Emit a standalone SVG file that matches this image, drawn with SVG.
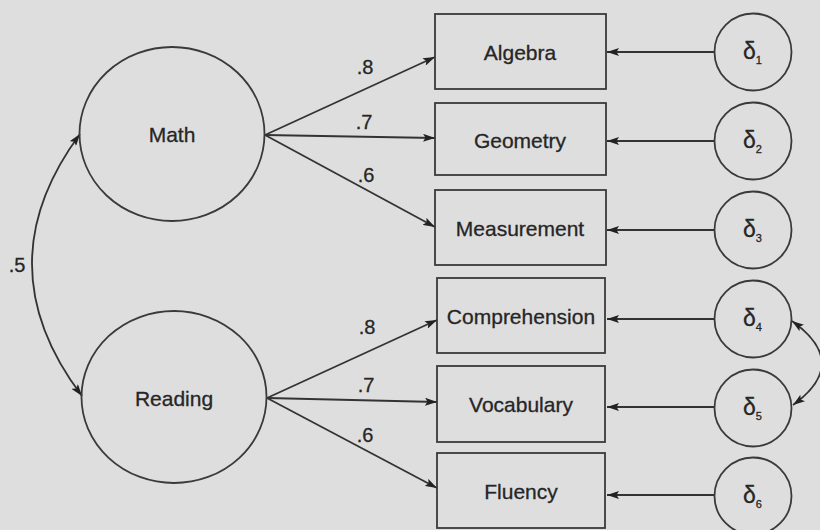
<svg xmlns="http://www.w3.org/2000/svg" width="820" height="530" viewBox="0 0 820 530">
<style>
.shape{fill:none;stroke:#3a3a3a;stroke-width:1.8}
.box{fill:none;stroke:#3a3a3a;stroke-width:1.8}
.lbl{font-family:"Liberation Sans",Arial,sans-serif;font-size:21px;fill:#262626;stroke:#262626;stroke-width:0.3;text-anchor:middle;dominant-baseline:central}
.num{font-family:"Liberation Sans",Arial,sans-serif;font-size:20px;fill:#262626;stroke:#262626;stroke-width:0.3;text-anchor:middle;dominant-baseline:central}
.del{font-family:"Liberation Sans",Arial,sans-serif;font-size:23px;fill:#262626;stroke:#262626;stroke-width:0.3}
.sub{font-size:11px}
.edge{fill:none;stroke:#333;stroke-width:1.8}
.arr{marker-end:url(#ah)}
.dbl{marker-start:url(#ah);marker-end:url(#ah)}
</style>
<defs>
<marker id="ah" viewBox="0 0 12 8" refX="12" refY="4" markerWidth="12" markerHeight="8" markerUnits="userSpaceOnUse" orient="auto-start-reverse">
<path d="M0,0 L12,4 L0,8 L2.5,4 z" fill="#222"/>
</marker>
</defs>
<rect x="0" y="0" width="820" height="530" fill="#dedede"/>

<g id="connectors">
<path class="edge arr" d="M265,135 L435,57"/>
<path class="edge arr" d="M265,135 L435,138"/>
<path class="edge arr" d="M265,135 L435,227"/>
<path class="edge arr" d="M267,398 L437,320"/>
<path class="edge arr" d="M267,398 L437,402"/>
<path class="edge arr" d="M267,398 L437,488"/>
<path class="edge arr" d="M714,52 L607,52"/>
<path class="edge arr" d="M714,141 L607,141"/>
<path class="edge arr" d="M714,230 L607,230"/>
<path class="edge arr" d="M714,319 L607,319"/>
<path class="edge arr" d="M714,407 L607,407"/>
<path class="edge arr" d="M714,495 L607,495"/>
<path class="edge dbl" d="M80,134 Q-17,265 82,396"/>
<path class="edge dbl" d="M792,321 Q851,363 793,405"/>
<text class="num" x="365" y="67">.8</text>
<text class="num" x="364" y="122">.7</text>
<text class="num" x="366" y="175">.6</text>
<text class="num" x="367" y="327">.8</text>
<text class="num" x="366" y="385">.7</text>
<text class="num" x="365" y="435">.6</text>
<text class="num" x="17" y="265">.5</text>
</g>

<g id="math">
<ellipse class="shape" cx="172" cy="134" rx="92.5" ry="87"/>
<text class="lbl" x="172" y="134">Math</text>
</g>
<g id="reading">
<ellipse class="shape" cx="174" cy="397" rx="92.5" ry="86"/>
<text class="lbl" x="174" y="398">Reading</text>
</g>

<g id="algebra">
<rect class="box" x="435" y="14" width="171" height="75"/>
<text class="lbl" x="520" y="52">Algebra</text>
</g>
<g id="geometry">
<rect class="box" x="435" y="103" width="171" height="72"/>
<text class="lbl" x="520" y="140">Geometry</text>
</g>
<g id="measurement">
<rect class="box" x="435" y="190" width="171" height="75"/>
<text class="lbl" x="520" y="228">Measurement</text>
</g>
<g id="comprehension">
<rect class="box" x="437" y="278" width="168" height="75"/>
<text class="lbl" x="521" y="316">Comprehension</text>
</g>
<g id="vocabulary">
<rect class="box" x="437" y="366" width="168" height="76"/>
<text class="lbl" x="521" y="404">Vocabulary</text>
</g>
<g id="fluency">
<rect class="box" x="437" y="453" width="168" height="75"/>
<text class="lbl" x="521" y="491">Fluency</text>
</g>

<g id="d1">
<circle class="shape" cx="753" cy="52" r="38.5"/>
<text class="del" x="743" y="59">δ<tspan class="sub" dy="5">1</tspan></text>
</g>
<g id="d2">
<circle class="shape" cx="753" cy="141" r="38.5"/>
<text class="del" x="743" y="148">δ<tspan class="sub" dy="5">2</tspan></text>
</g>
<g id="d3">
<circle class="shape" cx="753" cy="230" r="38.5"/>
<text class="del" x="743" y="237">δ<tspan class="sub" dy="5">3</tspan></text>
</g>
<g id="d4">
<circle class="shape" cx="753" cy="319" r="38.5"/>
<text class="del" x="743" y="326">δ<tspan class="sub" dy="5">4</tspan></text>
</g>
<g id="d5">
<circle class="shape" cx="753" cy="408" r="38.5"/>
<text class="del" x="743" y="415">δ<tspan class="sub" dy="5">5</tspan></text>
</g>
<g id="d6">
<circle class="shape" cx="753" cy="496" r="38.5"/>
<text class="del" x="743" y="503">δ<tspan class="sub" dy="5">6</tspan></text>
</g>
</svg>
